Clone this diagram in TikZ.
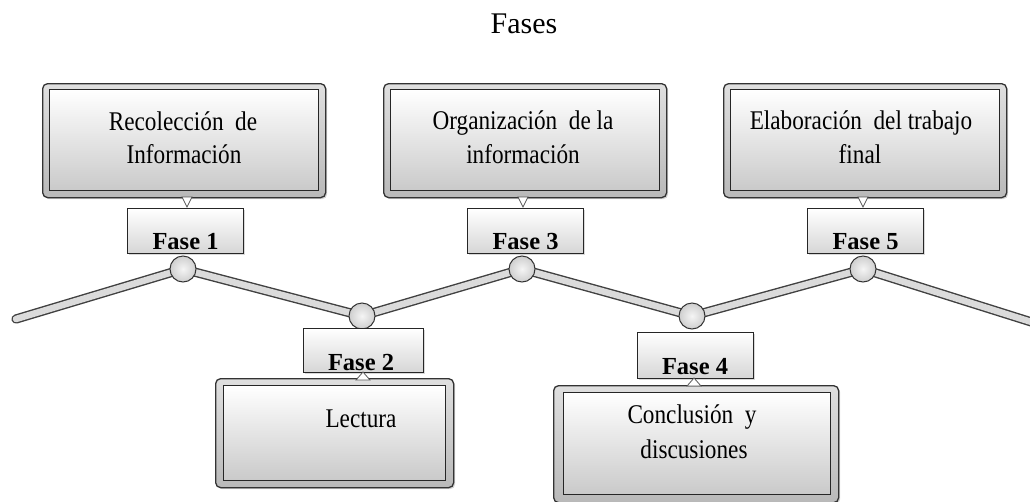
\documentclass[tikz,border=0pt]{standalone}
\usepackage{fontspec}
\usepackage{graphicx}
\setmainfont{Liberation Serif}
\usetikzlibrary{shadows,backgrounds}
\newcommand{\sqz}[1]{\scalebox{0.86}[1]{#1}}
\tikzset{
  frame/.style={draw=black!80, line width=1.3pt, rounded corners=5pt, top color=gray!25, bottom color=gray!55, inner sep=0pt, anchor=north west,
    drop shadow={opacity=0.35, shadow xshift=1.5pt, shadow yshift=-1.5pt}},
  innerbox/.style={draw=black!85, line width=1.3pt, top color=white, bottom color=gray!42, inner sep=0pt, anchor=north west},
  fasebox/.style={draw=black!85, line width=1pt, top color=white, bottom color=gray!32, inner sep=0pt, anchor=north west,
    drop shadow={opacity=0.3, shadow xshift=1.5pt, shadow yshift=-1.5pt}},
  joint/.style={circle, draw=black!80, line width=1pt, inner color=gray!8, outer color=gray!38, minimum size=26pt, inner sep=0pt},
  spine/.style={draw=black!75, line width=1.4pt, double=gray!28, double distance=6.5pt, line cap=round, line join=round},
  tri/.style={draw=gray!70!black, line width=0.8pt, fill=white},
  boxtext/.style={anchor=base, inner sep=0pt, font=\fontsize{27}{30}\selectfont},
  fasetext/.style={anchor=base, inner sep=0pt, font=\bfseries\fontsize{24.5}{28}\selectfont},
}
\begin{document}
\begin{tikzpicture}[x=1pt,y=-1pt]
\useasboundingbox (0,0) rectangle (1030,501);
\clip (0,0) rectangle (1030,501);

% title
\node[anchor=base, inner sep=0pt, font=\fontsize{30}{34}\selectfont] (title) at (524,33) {Fases};

% joints
\node[joint] (c1) at (183,269) {};
\node[joint] (c2) at (362,316) {};
\node[joint] (c3) at (522,269) {};
\node[joint] (c4) at (692,316) {};
\node[joint] (c5) at (863,269) {};
\coordinate (L) at (16,319);
\coordinate (R) at (1060,331);

\begin{scope}[on background layer]
  \draw[spine] (L) -- (c1.center) -- (c2.center) -- (c3.center) -- (c4.center) -- (c5.center) -- (R);
\end{scope}

% Fase labels
\node[fasebox, minimum width=116pt, minimum height=45pt] (f1) at (127,208) {};
\node[fasebox, minimum width=116pt, minimum height=45pt] (f3) at (467,208) {};
\node[fasebox, minimum width=116pt, minimum height=45pt] (f5) at (807,208) {};
\node[fasebox, minimum width=120pt, minimum height=44pt] (f2) at (303,328) {};
\node[fasebox, minimum width=116pt, minimum height=46pt] (f4) at (637,332) {};

% top boxes
\node[frame, minimum width=283pt, minimum height=114pt] (b1) at (42,83) {};
\node[innerbox, minimum width=269pt, minimum height=101pt] (b1i) at (49,89) {};
\node[frame, minimum width=283pt, minimum height=114pt] (b3) at (383,83) {};
\node[innerbox, minimum width=269pt, minimum height=101pt] (b3i) at (390,89) {};
\node[frame, minimum width=283pt, minimum height=114pt] (b5) at (723,83) {};
\node[innerbox, minimum width=269pt, minimum height=101pt] (b5i) at (730,89) {};

% bottom boxes
\node[frame, minimum width=238pt, minimum height=109pt] (b2) at (215,378) {};
\node[innerbox, minimum width=222pt, minimum height=95pt] (b2i) at (223,385) {};
\node[frame, minimum width=285pt, minimum height=117pt] (b4) at (553,385) {};
\node[innerbox, minimum width=267pt, minimum height=102pt] (b4i) at (563,392) {};

% connectors (small triangles)
\coordinate (t1) at (187,207);
\coordinate (t3) at (523,207);
\coordinate (t5) at (863,207);
\draw[tri] ([shift={(-5,-10)}]t1) -- ([shift={(5,-10)}]t1) -- (t1) -- cycle;
\draw[tri] ([shift={(-5,-10)}]t3) -- ([shift={(5,-10)}]t3) -- (t3) -- cycle;
\draw[tri] ([shift={(-5,-10)}]t5) -- ([shift={(5,-10)}]t5) -- (t5) -- cycle;
\coordinate (t2) at (363,372);
\coordinate (t4) at (694,378);
\draw[tri] ([shift={(-7,8)}]t2) -- ([shift={(7,8)}]t2) -- (t2) -- cycle;
\draw[tri] ([shift={(-7,8)}]t4) -- ([shift={(7,8)}]t4) -- (t4) -- cycle;

% texts
\node[fasetext] (l1) at (f1.center |- 0,249) {Fase 1};
\node[fasetext] (l3) at (f3.center |- 0,249) {Fase 3};
\node[fasetext] (l5) at (f5.center |- 0,249) {Fase 5};
\node[fasetext] (l2) at (361,370) {Fase 2};
\node[fasetext] (l4) at (695,374) {Fase 4};

\node[boxtext] (x1a) at (183,130) {\sqz{Recolección\ \ de}};
\node[boxtext] (x1b) at (184,163) {\sqz{Información}};
\node[boxtext] (x3a) at (523,129) {\sqz{Organización\ \ de la}};
\node[boxtext] (x3b) at (523,163) {\sqz{información}};
\node[boxtext] (x5a) at (861,129) {\sqz{Elaboración\ \ del trabajo}};
\node[boxtext] (x5b) at (860,163) {\sqz{final}};
\node[boxtext] (x2) at (361,427) {\sqz{Lectura}};
\node[boxtext] (x4a) at (692,423) {\sqz{Conclusión\ \ y}};
\node[boxtext] (x4b) at (694,458) {\sqz{discusiones}};
\end{tikzpicture}
\end{document}
